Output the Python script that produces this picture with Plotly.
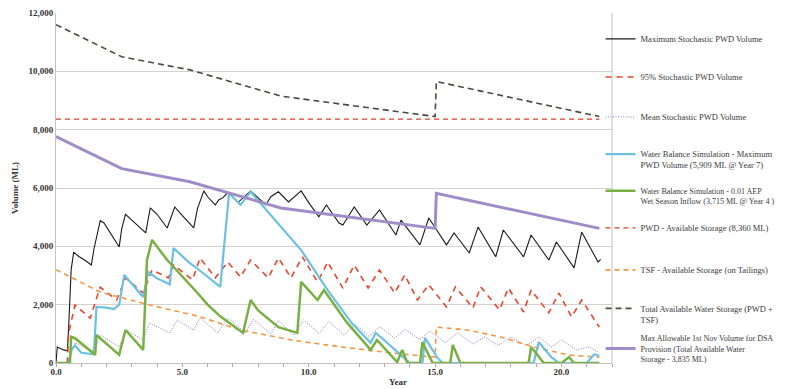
import plotly.graph_objects as go

# ---------------- data ----------------
max_x = [0, 0.05, 0.3, 0.45, 0.5, 0.55, 0.6, 0.7, 0.9, 1.1, 1.4, 1.5, 1.6, 1.75, 1.9, 2.2, 2.5, 2.6, 2.75, 3.0, 3.3, 3.55, 3.73, 4.0, 4.4, 4.55, 4.7, 5.0, 5.45, 5.6, 5.85, 6.0, 6.3, 6.45, 6.6, 6.8, 7.2, 7.7, 8.3, 8.5, 8.8, 9.2, 9.45, 9.7, 10.0, 10.4, 10.7, 11.2, 11.35, 11.8, 12.3, 12.8, 13.45, 13.65, 14.4, 14.75, 15.45, 15.75, 16.35, 16.7, 17.4, 17.7, 18.5, 18.8, 19.5, 19.8, 20.5, 20.8, 21.45, 21.55]
max_y = [0, 550, 450, 420, 1200, 2500, 3200, 3800, 3650, 3550, 3360, 3900, 4320, 4880, 4800, 4400, 3980, 4600, 5100, 4900, 4650, 4460, 5320, 5100, 4630, 5000, 5350, 5050, 4630, 5300, 5900, 5700, 5420, 5600, 5660, 5850, 5500, 5900, 5420, 5700, 5870, 5520, 5700, 5900, 5500, 5010, 5420, 4800, 4730, 5350, 4730, 5250, 4390, 4900, 4050, 4970, 4050, 4460, 3770, 4660, 3640, 4560, 3640, 4390, 3530, 4150, 3260, 4490, 3460, 3550]

p95_x = [0, 0.45, 0.5, 0.75, 1.35, 1.75, 2.4, 2.75, 3.45, 3.8, 4.45, 4.65, 5.4, 5.7, 6.3, 6.8, 7.3, 7.7, 8.4, 8.8, 9.3, 9.75, 10.35, 10.75, 11.35, 11.8, 12.35, 12.8, 13.4, 13.8, 14.3, 14.75, 15.45, 15.8, 16.5, 16.8, 17.55, 17.9, 18.5, 18.8, 19.5, 19.9, 20.4, 20.8, 21.5]
p95_y = [0, 0, 1030, 1990, 1540, 2600, 2160, 2920, 2400, 3190, 2920, 3360, 2850, 3600, 2920, 3460, 2950, 3530, 2920, 3600, 2920, 3640, 2780, 3460, 2570, 3360, 2570, 3190, 2400, 3020, 2160, 2680, 1920, 2610, 1890, 2610, 1820, 2570, 1750, 2500, 1720, 2400, 1580, 2160, 1230]

mean_x = [0, 0.5, 0.75, 1.5, 1.75, 2.5, 2.8, 3.45, 3.7, 4.5, 4.8, 5.45, 5.7, 6.4, 6.8, 7.5, 7.8, 8.5, 8.8, 9.4, 9.8, 10.4, 10.8, 11.4, 11.8, 12.4, 12.8, 13.4, 13.8, 14.4, 14.8, 15.4, 15.9, 16.5, 16.95, 17.5, 18.0, 18.6, 19.1, 19.6, 20.0, 20.6, 21.1, 21.5]
mean_y = [0, 0, 690, 400, 960, 550, 1130, 790, 1370, 1030, 1470, 1130, 1540, 1030, 1540, 1030, 1500, 1000, 1450, 950, 1480, 1020, 1420, 950, 1350, 900, 1250, 850, 1150, 800, 1100, 700, 1030, 650, 890, 600, 890, 600, 890, 550, 790, 450, 550, 350]

wbmax_x = [0, 0.5, 0.6, 0.75, 1.0, 1.5, 1.6, 2.0, 2.3, 2.5, 2.7, 3.45, 3.65, 4.0, 4.5, 4.65, 5.25, 5.5, 6.5, 6.85, 7.3, 7.7, 9.7, 10.75, 11.7, 12.45, 12.65, 12.9, 13.65, 14.0, 14.5, 14.6, 15.1, 15.3, 18.9, 19.1, 19.6, 19.9, 21.0, 21.3, 21.5]
wbmax_y = [0, 0, 450, 600, 350, 300, 1920, 1900, 1850, 2000, 3020, 2260, 3120, 2900, 2700, 3940, 3460, 3300, 2610, 5830, 5420, 5870, 3870, 2500, 1370, 690, 1030, 850, 270, 0, 0, 860, 170, 0, 0, 720, 200, 0, 0, 300, 250]

aep_x = [0, 0.55, 0.6, 0.75, 1.55, 1.6, 2.5, 2.75, 3.45, 3.6, 3.8, 4.4, 5.6, 6.0, 6.5, 7.4, 7.7, 8.0, 8.8, 9.55, 9.7, 10.35, 10.6, 11.5, 12.45, 12.7, 13.5, 13.7, 13.9, 14.4, 14.5, 14.9, 15.6, 15.7, 16.0, 18.7, 18.8, 19.3, 20.0, 20.3, 20.5, 21.5]
aep_y = [0, 0, 900, 850, 280, 960, 280, 1130, 450, 3530, 4220, 3530, 2400, 2000, 1600, 1030, 2160, 1800, 1230, 1030, 2780, 2160, 2500, 1400, 450, 790, 30, 450, 0, 0, 720, 0, 0, 620, 0, 0, 550, 0, 0, 200, 0, 0]

pwd_x = [0, 21.5]
pwd_y = [8360, 8360]

tsf_x = [0, 1.75, 3.7, 5.6, 7.3, 9.3, 11.3, 13.3, 15.0, 15.05, 16.3, 17.6, 18.9, 20.3, 21.5]
tsf_y = [3200, 2430, 1990, 1610, 1130, 790, 550, 340, 200, 1230, 1130, 890, 550, 270, 200]

total_x = [0, 2.6, 5.3, 8.9, 15.0, 15.05, 21.5]
total_y = [11600, 10500, 10050, 9150, 8450, 9650, 8450]

dsa_x = [0, 2.6, 5.3, 8.9, 15.0, 15.05, 21.5]
dsa_y = [7765, 6665, 6215, 5315, 4615, 5815, 4615]

y_ticks = [0, 2000, 4000, 6000, 8000, 10000, 12000]
y_labels = ["0", "2,000", "4,000", "6,000", "8,000", "10,000", "12,000"]
x_ticks = [0, 5, 10, 15, 20]
x_labels = ["0.0", "5.0", "10.0", "15.0", "20.0"]

names = [
    "Maximum Stochastic PWD Volume",
    "95% Stochastic PWD Volume",
    "Mean Stochastic PWD Volume",
    "Water Balance Simulation - Maximum<br>PWD Volume (5,909 ML @ Year 7)",
    "Water Balance Simulation - 0.01 AEP<br>Wet Season Inflow (3,715 ML @ Year 4 )",
    "PWD - Available Storage (8,360 ML)",
    "TSF - Available Storage (on Tailings)",
    "Total Available Water Storage (PWD +<br>TSF)",
    "Max Allowable 1st Nov Volume for DSA<br>Provision (Total Available Water<br>Storage - 3,835 ML)",
]

# ---------------- figure ----------------
fig = go.Figure()
series = [
    (max_x, max_y, dict(color="#1a1a1a", width=1.1)),
    (p95_x, p95_y, dict(color="#E8452C", width=1.6, dash="6px,5px")),
    (mean_x, mean_y, dict(color="#9074C4", width=1, dash="1px,1.5px")),
    (wbmax_x, wbmax_y, dict(color="#6CC0E2", width=2.2)),
    (aep_x, aep_y, dict(color="#78B043", width=2.5)),
    (pwd_x, pwd_y, dict(color="#D9412B", width=1.3, dash="5px,4px")),
    (tsf_x, tsf_y, dict(color="#F79646", width=1.6, dash="5px,4px")),
    (total_x, total_y, dict(color="#4B4A3C", width=1.6, dash="6px,4px")),
    (dsa_x, dsa_y, dict(color="#A08CC8", width=3)),
]
legend_ids = ["legend"] + ["legend%d" % k for k in range(2, 10)]
draw_order = [0, 1, 2, 6, 3, 4, 5, 7, 8]
for i in draw_order:
    xs, ys, ln = series[i]
    fig.add_trace(go.Scatter(x=xs, y=ys, mode="lines", line=ln, name=names[i],
                             legend=legend_ids[i]))

# page body has an 8px margin: figure is 778x381 placed at (8, 8)
fig.update_layout(
    width=778, height=381,
    margin=dict(l=48, r=174, t=5, b=26, autoexpand=False),
    paper_bgcolor="white", plot_bgcolor="white",
    font=dict(family="Liberation Serif", size=9, color="#333333"),
    showlegend=True,
)
# one legend box per entry, stacked like the reference legend
legend_y = [0.926, 0.817, 0.703, 0.580, 0.477, 0.386, 0.266, 0.139, 0.040]
legend_valign = ["middle", "middle", "middle", "top", "top", "middle", "middle", "top", "middle"]
legend_size = [8.5, 8.5, 8.5, 8.5, 8, 8.5, 8.5, 8.5, 8]
for k, lid in enumerate(legend_ids):
    fig.update_layout({lid: dict(x=0.9794, xanchor="left", y=legend_y[k], yanchor="middle",
                                 font=dict(size=legend_size[k], color="#3a3a3a"),
                                 valign=legend_valign[k],
                                 itemwidth=30, bgcolor="rgba(0,0,0,0)", borderwidth=0)})

fig.update_xaxes(range=[0, 22], tickvals=x_ticks, ticktext=x_labels,
                 showgrid=False, showline=True, linecolor="#c8c0c0", linewidth=1,
                 ticks="", tickfont=dict(size=9, weight="bold", color="#333"),
                 minor=dict(ticks="outside", ticklen=3, tickcolor="#b0a8a8", dtick=1),
                 mirror=False, zeroline=False)
fig.update_yaxes(range=[0, 12000], tickvals=y_ticks, ticktext=y_labels,
                 showgrid=True, gridcolor="#d8d0d0", gridwidth=1,
                 showline=True, linecolor="#c8c0c0", linewidth=1,
                 ticks="", tickfont=dict(size=9, weight="bold", color="#333"),
                 zeroline=False,
                 title=dict(text="Volume (ML)", font=dict(size=9, weight="bold", color="#333"), standoff=8))
# right border of plot area
fig.add_shape(type="line", xref="paper", yref="paper", x0=1, x1=1, y0=0, y1=1,
              line=dict(color="#c8c0c0", width=1))
fig.add_annotation(text="<b>Year</b>", xref="paper", yref="paper", x=0.615, y=0,
                   yanchor="middle", yshift=-19, showarrow=False, font=dict(size=9, color="#333"))

fig.write_html("out.html")
